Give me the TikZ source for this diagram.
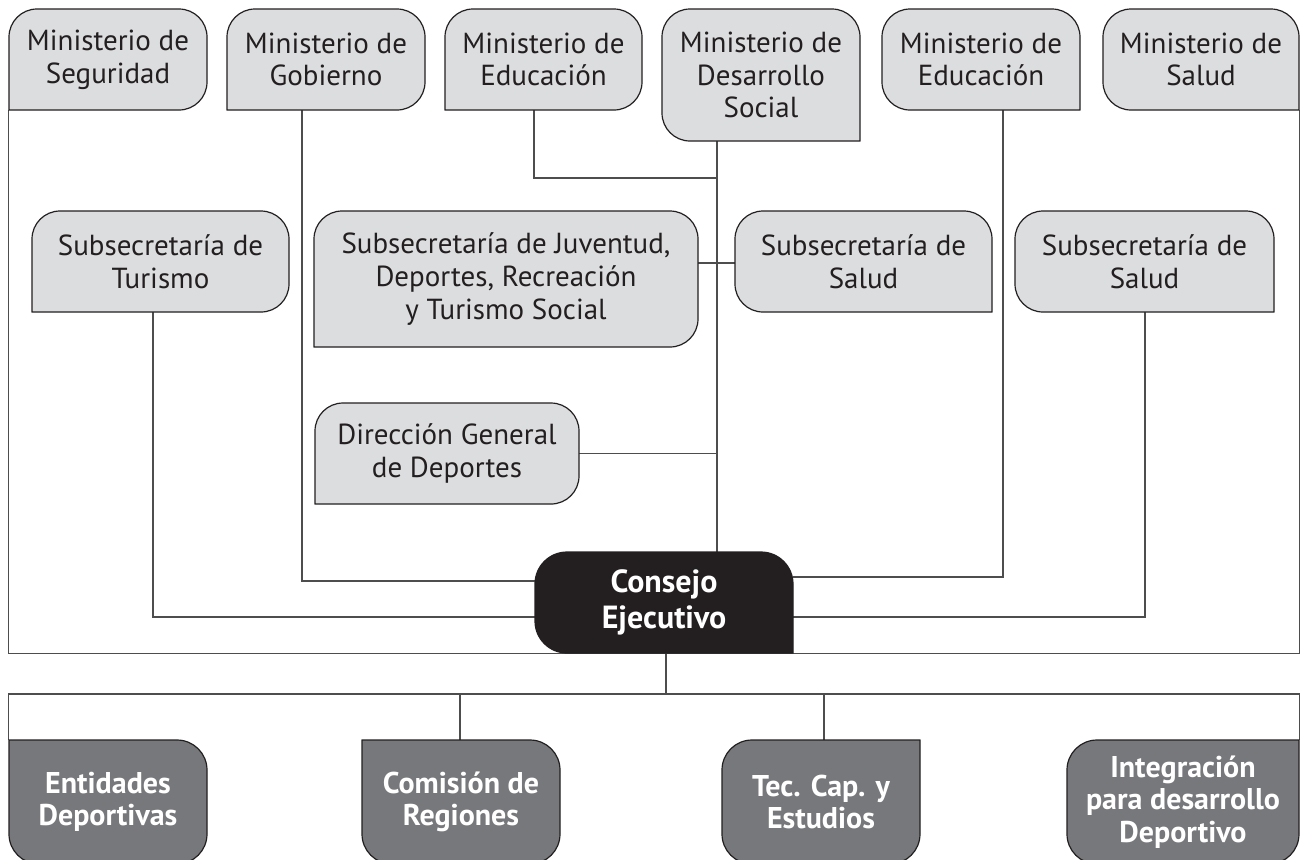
\documentclass[tikz,border=0pt]{standalone}
\usepackage{fontspec}
\setmainfont{PT Sans}
\usetikzlibrary{calc,backgrounds}
\definecolor{lightbox}{HTML}{DCDDDF}
\definecolor{darkbox}{HTML}{77787B}
\definecolor{blackbox}{HTML}{231F20}
\definecolor{linegray}{HTML}{4D4D4D}
\definecolor{ink}{HTML}{231F20}
\tikzset{
  lightshape/.style={fill=lightbox, draw=ink, line width=0.6pt},
  darkshape/.style={fill=darkbox, draw=ink, line width=0.6pt},
  blackshape/.style={fill=blackbox, draw=blackbox, line width=0.6pt},
  conn/.style={draw=linegray, line width=0.7pt},
  lighttext/.style={text=ink, font=\fontsize{14.5}{16.3}\selectfont},
  darktext/.style={text=white, font=\fontsize{15}{16.3}\selectfont\bfseries},
  blacktext/.style={text=white, font=\fontsize{16}{18}\selectfont\bfseries},
}
% #1 kind, #2 name, #3 x1, #4 y1, #5 x2, #6 y2, #7 sharp corner, #8 radius, #9 text
\newcommand\gbox[9]{%
  \def\gbRtl{#8}\def\gbRtr{#8}\def\gbRbr{#8}\def\gbRbl{#8}%
  \expandafter\def\csname gbR#7\endcsname{0.01}%
  \path[#1shape] (#3,#6-\gbRbl) -- (#3,#4+\gbRtl)
    arc[start angle=180,end angle=90,radius=\gbRtl*0.5pt] -- (#5-\gbRtr,#4)
    arc[start angle=90,end angle=0,radius=\gbRtr*0.5pt] -- (#5,#6-\gbRbr)
    arc[start angle=0,end angle=-90,radius=\gbRbr*0.5pt] -- (#3+\gbRbl,#6)
    arc[start angle=-90,end angle=-180,radius=\gbRbl*0.5pt] -- cycle;
  \node[#1text, inner sep=0pt, align=center,
        minimum width={(#5-#3)*0.5pt}, minimum height={(#6-#4)*0.5pt}]
        (#2) at ({(#3+#5)/2},{(#4+#6)/2}) {#9};
}
\begin{document}
\begin{tikzpicture}[x=0.5pt,y=-0.5pt]
\useasboundingbox (0,0) rectangle (1303,859);
\clip (0,0) rectangle (1303,859);
% top row
\gbox{light}{seg}{9}{9}{207}{110}{bl}{28}{Ministerio de\\Seguridad}
\gbox{light}{gob}{227}{9}{425}{110}{bl}{28}{Ministerio de\\Gobierno}
\gbox{light}{eduL}{445}{9}{642}{110}{bl}{28}{Ministerio de\\Educación}
\gbox{light}{des}{662}{9}{860}{141}{br}{28}{Ministerio de\\Desarrollo\\Social}
\gbox{light}{eduR}{882}{9}{1080}{110}{br}{28}{Ministerio de\\Educación}
\gbox{light}{sal}{1103}{9}{1299}{110}{br}{28}{Ministerio de\\Salud}
% middle
\gbox{light}{tur}{32}{211}{289}{312}{bl}{28}{Subsecretaría de\\Turismo}
\gbox{light}{juv}{314}{211}{698}{347}{bl}{28}{Subsecretaría de Juventud,\\Deportes, Recreación\\y Turismo Social}
\gbox{light}{salM}{735}{211}{992}{312}{br}{28}{Subsecretaría de\\Salud}
\gbox{light}{salR}{1015}{211}{1274}{312}{br}{28}{Subsecretaría de\\Salud}
\gbox{light}{dir}{315}{403}{579}{504}{bl}{28}{Dirección General\\de Deportes}
\gbox{black}{cons}{535}{552}{793}{653}{br}{32}{Consejo\\Ejecutivo}
% bottom
\gbox{dark}{ent}{9}{740}{207}{864}{tl}{30}{Entidades\\Deportivas}
\gbox{dark}{com}{362}{740}{560}{864}{tl}{30}{Comisión de\\Regiones}
\gbox{dark}{tec}{722}{740}{920}{864}{tr}{30}{Tec. Cap. y\\Estudios}
\gbox{dark}{integ}{1067}{740}{1299}{864}{tr}{30}{Integración\\para desarrollo\\Deportivo}
% helper coordinates
\coordinate (gobX) at (302,581);
\coordinate (turX) at (153,617);
\coordinate (eduRX) at (1003,577);
\coordinate (salRX) at (1145,617);
\coordinate (trunkX) at (717,0);
\coordinate (eduLX) at (534,178);
\coordinate (jsY) at (0,263);
\coordinate (busY) at (666,694);
\coordinate (comX) at (460,0);
\coordinate (tecX) at (824,0);
\begin{pgfonlayer}{background}
  \draw[conn] (seg.south west) -- (seg.south west |- cons.south) -- (sal.south east |- cons.south) -- (sal.south east);
  \draw[conn] (gob.south -| gobX) |- (cons.west |- gobX);
  \draw[conn] (tur.south -| turX) |- (cons.west |- turX);
  \draw[conn] (eduR.south -| eduRX) |- (cons.east |- eduRX);
  \draw[conn] (salR.south -| salRX) |- (cons.east |- salRX);
  \draw[conn] (des.south -| trunkX) -- (cons.north -| trunkX);
  \draw[conn] (eduL.south -| eduLX) |- (eduLX -| trunkX);
  \draw[conn] (juv.east |- jsY) -- (salM.west |- jsY);
  \draw[conn] (dir.east) -- (dir.east -| trunkX);
  \draw[conn] (cons.south -| busY) -- (busY);
  \draw[conn] (ent.north west) -- (ent.north west |- busY) -- (integ.north east |- busY) -- (integ.north east);
  \draw[conn] (com.north -| comX) -- (comX |- busY);
  \draw[conn] (tec.north -| tecX) -- (tecX |- busY);
\end{pgfonlayer}
\end{tikzpicture}
\end{document}
